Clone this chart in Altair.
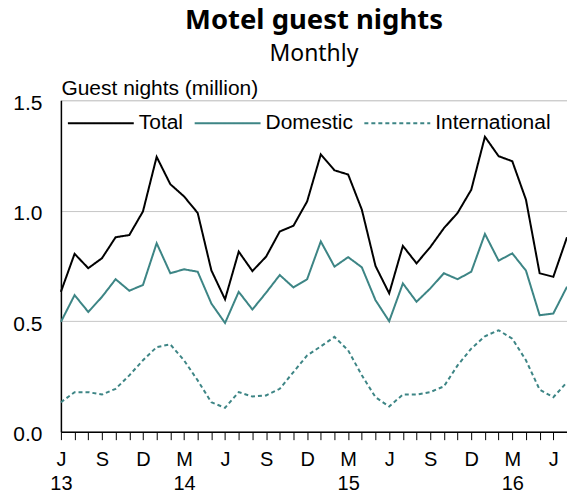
import json
import altair as alt
import pandas as pd

# Months Jun 2013 .. Jul 2016
month_letters = ["J", "", "", "S", "", "", "D", "", "", "M", "", "",
                 "J", "", "", "S", "", "", "D", "", "", "M", "", "",
                 "J", "", "", "S", "", "", "D", "", "", "M", "", "",
                 "J", ""]
year_labels = ["13", "", "", "", "", "", "", "", "", "14", "", "",
               "", "", "", "", "", "", "", "", "", "15", "", "",
               "", "", "", "", "", "", "", "", "", "16", "", "",
               "", ""]

total = [0.633, 0.805, 0.740, 0.785, 0.880, 0.890, 0.997, 1.244, 1.120, 1.065, 0.990, 0.730,
         0.599, 0.815, 0.727, 0.792, 0.906, 0.932, 1.042, 1.255, 1.183, 1.164, 1.005, 0.750,
         0.626, 0.841, 0.762, 0.835, 0.921, 0.990, 1.095, 1.335, 1.247, 1.224, 1.050, 0.717,
         0.701, 0.880]
domestic = [0.497, 0.618, 0.542, 0.610, 0.690, 0.638, 0.664, 0.853, 0.717, 0.735, 0.724, 0.580,
            0.492, 0.633, 0.553, 0.629, 0.709, 0.653, 0.690, 0.861, 0.747, 0.790, 0.744, 0.595,
            0.500, 0.671, 0.588, 0.648, 0.717, 0.690, 0.724, 0.895, 0.774, 0.807, 0.729, 0.527,
            0.535, 0.656]
international = [0.133, 0.179, 0.179, 0.168, 0.194, 0.255, 0.323, 0.383, 0.395, 0.323, 0.232, 0.133,
                 0.108, 0.179, 0.159, 0.164, 0.194, 0.270, 0.345, 0.386, 0.429, 0.368, 0.255, 0.156,
                 0.114, 0.168, 0.168, 0.179, 0.205, 0.300, 0.376, 0.432, 0.459, 0.421, 0.323, 0.190,
                 0.156, 0.224]

series_names = ["Total", "Domestic", "International"]
series_colors = ["#000000", "#3d8585", "#3d8585"]
series_dashes = [[1, 0], [1, 0], [4, 3]]

rows = []
for name, vals in zip(series_names, [total, domestic, international]):
    for i, v in enumerate(vals):
        rows.append({"idx": i, "series": name, "value": v})
df = pd.DataFrame(rows)

tick_text = [[m, y] if y else [m] for m, y in zip(month_letters, year_labels)]
label_expr = json.dumps(tick_text) + "[datum.value]"

FONT = "Liberation Sans"


def make_legend():
    return alt.Legend(orient="none", legendX=6, legendY=-11,
                      direction="horizontal", columns=3,
                      symbolType="stroke", symbolSize=4356,
                      symbolStrokeWidth=2, labelFont=FONT,
                      labelFontSize=21, labelColor="#000000",
                      labelOffset=4, columnPadding=7, padding=0)


chart = alt.Chart(df).mark_line(strokeWidth=2).encode(
    x=alt.X("idx:O",
            scale=alt.Scale(type="point", padding=0),
            axis=alt.Axis(title=None, labelExpr=label_expr, labelAngle=0,
                          labelFont=FONT, labelFontSize=20, labelColor="#000000",
                          labelLineHeight=24, labelPadding=10,
                          tickSize=8, tickColor="#000000", tickWidth=1,
                          domainColor="#000000", domainWidth=1.5,
                          labelOverlap=False, grid=False)),
    y=alt.Y("value:Q",
            scale=alt.Scale(domain=[0, 1.5], nice=False, zero=True),
            axis=alt.Axis(title="Guest nights (million)", values=[0, 0.5, 1.0, 1.5],
                          format=".1f", ticks=False, tickSize=0, labelPadding=19,
                          labelFont=FONT, labelFontSize=21, labelColor="#000000",
                          labelOffset=3,
                          grid=True, gridColor="#c6c6c6", gridWidth=1,
                          domainColor="#000000", domainWidth=1.5,
                          titleFont=FONT, titleFontSize=21, titleFontWeight="normal",
                          titleColor="#000000", titleAngle=0, titleAlign="left",
                          titleBaseline="alphabetic", titleX=0, titleY=-6)),
    color=alt.Color("series:N", title=None,
                    scale=alt.Scale(domain=series_names, range=series_colors),
                    legend=make_legend()),
    strokeDash=alt.StrokeDash("series:N", title=None,
                              scale=alt.Scale(domain=series_names, range=series_dashes),
                              legend=make_legend()),
).properties(
    width=507,
    height=332,
    title=alt.TitleParams(text="Motel guest nights", subtitle="Monthly",
                          anchor="middle", frame="group",
                          font="Noto Sans", fontSize=27.5, fontWeight="bold", color="#000000",
                          subtitleFont="Noto Sans", subtitleFontSize=23,
                          subtitleColor="#000000", subtitlePadding=9, offset=11),
    autosize=alt.AutoSizeParams(type="none"),
    padding={"left": 53, "top": 92, "right": 0, "bottom": 63},
).configure_view(stroke=None).configure(background="white")

chart.save("out.html", embed_options={"renderer": "svg", "actions": False})
